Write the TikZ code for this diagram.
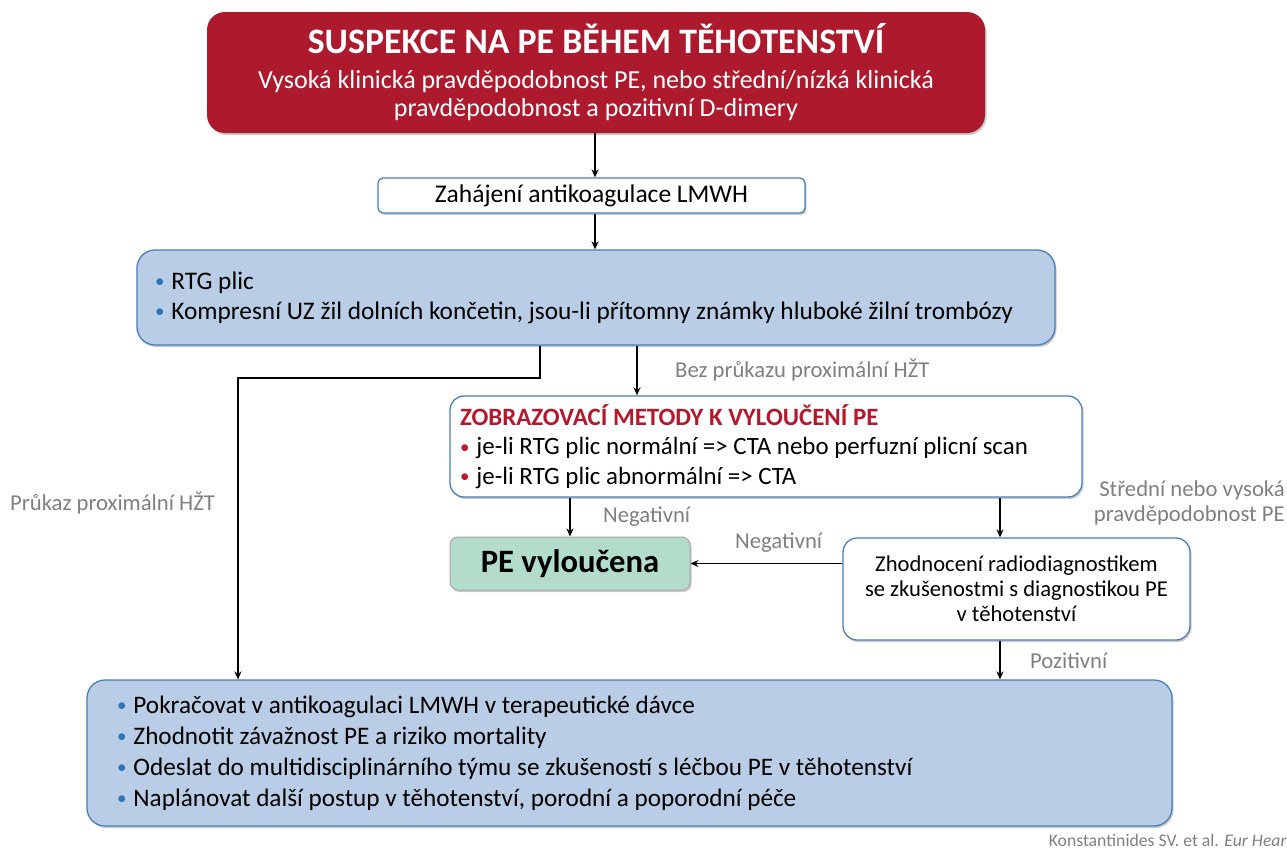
\documentclass[tikz,border=0pt]{standalone}
\usepackage{fontspec}
\setmainfont{Carlito}
\usetikzlibrary{arrows.meta,shadows}
\definecolor{pered}{HTML}{AD1A2E}
\definecolor{boxblue}{HTML}{4A7EBB}
\definecolor{lightblue}{HTML}{B9CDE6}
\definecolor{mint}{HTML}{B3DDCA}
\definecolor{labelgray}{HTML}{7F7F7F}
\definecolor{bulblue}{HTML}{2E75B6}
\definecolor{bulred}{HTML}{C0172E}
\definecolor{titred}{HTML}{B4182D}
\newcommand{\bbul}{\raisebox{1.5pt}{\fontsize{19}{20}\selectfont\color{bulblue}\textbullet}\hspace{7pt}}
\newcommand{\rbul}{\raisebox{1.5pt}{\fontsize{19}{20}\selectfont\color{bulred}\textbullet}\hspace{7pt}}
\begin{document}
\begin{tikzpicture}[x=1pt,y=-1pt,
  shadowed/.style={drop shadow={shadow xshift=1.5pt,shadow yshift=-2pt,opacity=0.35,fill=black!60}},
  redbox/.style={shadowed,fill=pered,rounded corners=18pt,text=white,inner sep=0pt,align=center},
  whitebox/.style={shadowed,draw=boxblue,line width=1.3pt,fill=white,rounded corners=14pt,inner sep=0pt},
  bluebox/.style={shadowed,draw=boxblue,line width=1.3pt,fill=lightblue,rounded corners=18pt,inner sep=0pt},
  greenbox/.style={shadowed,draw=black!35,line width=1pt,fill=mint,rounded corners=8pt,inner sep=0pt},
  lbl/.style={inner sep=0pt,text=labelgray,font=\fontsize{22.7}{25}\selectfont},
  arr/.style={line width=1.6pt,-{Stealth[length=8pt,width=7pt]}}]
\useasboundingbox (0,0) rectangle (1287,849);

\node[redbox,minimum width=778pt,minimum height=121pt,font=\fontsize{26}{28}\selectfont] (top) at (596,72.5)
  {{\fontsize{35.8}{40}\selectfont\bfseries SUSPEKCE NA PE BĚHEM TĚHOTENSTVÍ}\\[7pt]
   Vysoká klinická pravděpodobnost PE, nebo střední/nízká klinická\\
   pravděpodobnost a pozitivní D-dimery};

\node[whitebox,rounded corners=5pt,minimum width=427pt,minimum height=35pt,font=\fontsize{25.5}{30}\selectfont] (zah) at (591.5,195.5)
  {Zahájení antikoagulace LMWH};

\node[bluebox,minimum height=95pt,text width=882pt,inner xsep=18pt,align=flush left,font=\fontsize{25.3}{30}\selectfont] (rtg) at (596,297.5)
  {\bbul RTG plic\\
   \bbul Kompresní UZ žil dolních končetin, jsou-li přítomny známky hluboké žilní trombózy};

\node[whitebox,minimum height=101pt,text width=612pt,inner xsep=10pt,align=flush left,font=\fontsize{24.9}{29.5}\selectfont] (zob) at (766,446.5)
  {{\color{titred}\bfseries ZOBRAZOVACÍ METODY K VYLOUČENÍ PE}\\
   \rbul je-li RTG plic normální => CTA nebo perfuzní plicní scan\\
   \rbul je-li RTG plic abnormální => CTA};

\node[greenbox,minimum width=240pt,minimum height=53pt,font=\fontsize{32.6}{36}\selectfont\bfseries] (pev) at (570,563.5)
  {PE vyloučena};

\node[whitebox,minimum width=347pt,minimum height=102pt,align=center,font=\fontsize{22.6}{25}\selectfont] (zho) at (1016.5,589)
  {Zhodnocení radiodiagnostikem\\ se zkušenostmi s diagnostikou PE\\ v těhotenství};

\node[bluebox,minimum height=146pt,text width=1025pt,inner xsep=30pt,align=flush left,font=\fontsize{25.2}{31}\selectfont] (bot) at (629.5,753)
  {\bbul Pokračovat v antikoagulaci LMWH v terapeutické dávce\\
   \bbul Zhodnotit závažnost PE a riziko mortality\\
   \bbul Odeslat do multidisciplinárního týmu se zkušeností s léčbou PE v těhotenství\\
   \bbul Naplánovat další postup v těhotenství, porodní a poporodní péče};

% labels
\node[lbl,anchor=west] (l1) at (675,370) {Bez průkazu proximální HŽT};
\node[lbl,anchor=west] (l2) at (10,503) {Průkaz proximální HŽT};
\node[lbl,anchor=west] (l3) at (603,517) {Negativní};
\node[lbl,anchor=west] (l4) at (735,543) {Negativní};
\node[lbl,anchor=east,align=right] (l5) at (1285,503) {Střední nebo vysoká\\pravděpodobnost PE};
\node[lbl,anchor=west] (l6) at (1030,661) {Pozitivní};
\node[lbl,anchor=east,font=\fontsize{17.7}{20}\selectfont] (cit) at (1287,840) {Konstantinides SV. et al. \textit{Eur Hear}};

% connectors
\coordinate (xa) at (595,0);
\coordinate (xb) at (637,0);
\coordinate (xc) at (570,0);
\coordinate (xd) at (1000,0);
\coordinate (k1) at (540,378);
\coordinate (k2) at (238,378);

\draw[arr] (top.south -| xa) -- (zah.north -| xa);
\draw[arr] (zah.south -| xa) -- (rtg.north -| xa);
\draw[arr] (rtg.south -| xb) -- (zob.north -| xb);
\draw[arr] (rtg.south -| k1) -- (k1) -- (k2) -- (k2 |- bot.north);
\draw[arr] (zob.south -| xc) -- (pev.north -| xc);
\draw[arr] (zob.south -| xd) -- (zho.north -| xd);
\draw[arr] (zho.west |- pev.east) -- (pev.east);
\draw[arr] (zho.south -| xd) -- (bot.north -| xd);
\end{tikzpicture}
\end{document}
